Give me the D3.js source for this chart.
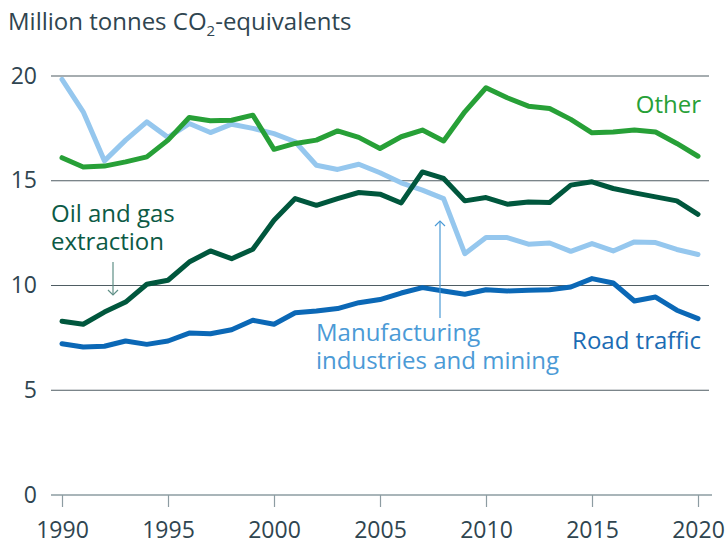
<!DOCTYPE html>
<html>
<head>
<meta charset="utf-8">
<script src="https://cdn.jsdelivr.net/npm/d3@7"></script>
<style>
  html, body { margin: 0; padding: 0; background: #ffffff; }
  svg { display: block; font-family: "Open Sans", "Noto Sans", sans-serif; }
</style>
</head>
<body>
<svg id="chart" width="728" height="541"></svg>
<script>
// Greenhouse gas emissions by source, million tonnes CO2-equivalents
const years = [1990, 1991, 1992, 1993, 1994, 1995, 1996, 1997, 1998, 1999,
               2000, 2001, 2002, 2003, 2004, 2005, 2006, 2007, 2008, 2009,
               2010, 2011, 2012, 2013, 2014, 2015, 2016, 2017, 2018, 2019, 2020];

const other = [16.10, 15.66, 15.70, 15.90, 16.14, 16.94, 18.02, 17.86, 17.89, 18.13,
               16.50, 16.78, 16.94, 17.38, 17.07, 16.54, 17.10, 17.42, 16.90, 18.29,
               19.44, 18.96, 18.56, 18.45, 17.93, 17.29, 17.33, 17.42, 17.33, 16.78, 16.17];

const manufacturing = [19.84, 18.29, 15.95, 16.94, 17.81, 17.07, 17.73, 17.30, 17.70, 17.50,
                       17.25, 16.86, 15.74, 15.54, 15.79, 15.38, 14.90, 14.55, 14.15, 11.52,
                       12.29, 12.29, 11.97, 12.03, 11.63, 12.00, 11.65, 12.08, 12.05, 11.72, 11.48];

const oilGas = [8.29, 8.15, 8.73, 9.21, 10.06, 10.25, 11.12, 11.65, 11.28, 11.73,
                13.11, 14.15, 13.83, 14.15, 14.44, 14.36, 13.94, 15.42, 15.11, 14.04,
                14.20, 13.88, 13.99, 13.96, 14.79, 14.95, 14.63, 14.42, 14.23, 14.04, 13.40];

const roadTraffic = [7.22, 7.06, 7.10, 7.35, 7.19, 7.35, 7.73, 7.70, 7.89, 8.34,
                     8.15, 8.70, 8.78, 8.90, 9.18, 9.33, 9.64, 9.90, 9.74, 9.58,
                     9.80, 9.74, 9.77, 9.80, 9.93, 10.33, 10.12, 9.26, 9.45, 8.82, 8.42];

const yTicks = [0, 5, 10, 15, 20];
const xTicks = [1990, 1995, 2000, 2005, 2010, 2015, 2020];

const svg = d3.select("#chart");

const x = d3.scaleLinear().domain([1990, 2020]).range([62, 698]);
const y = d3.scaleLinear().domain([0, 20]).range([495, 76]);

const textColor = "#2f4550";

// Title with subscript
const title = svg.append("text")
  .attr("x", 8).attr("y", 30)
  .attr("font-size", 24).attr("fill", textColor);
title.append("tspan").text("Million tonnes CO");
title.append("tspan").attr("font-size", 15).attr("dy", 6).text("2");
title.append("tspan").attr("dy", -6).text("-equivalents");

// Horizontal gridlines
svg.append("g")
  .selectAll("line")
  .data(yTicks.filter(d => d > 0))
  .join("line")
  .attr("x1", 51).attr("x2", 709)
  .attr("y1", d => y(d)).attr("y2", d => y(d))
  .attr("stroke", "#4f5d63").attr("stroke-width", 1.2);

// Y tick labels
svg.append("g")
  .selectAll("text")
  .data(yTicks)
  .join("text")
  .attr("x", 37).attr("y", d => y(d) + 7.5)
  .attr("text-anchor", "end")
  .attr("font-size", 23).attr("fill", textColor)
  .text(d => d);

// X axis
const xAxis = d3.axisBottom(x)
  .tickValues(xTicks)
  .tickFormat(d3.format("d"))
  .tickSize(12)
  .tickSizeOuter(0);

const gx = svg.append("g")
  .attr("transform", `translate(0,${y(0)})`)
  .call(xAxis);
gx.select(".domain").remove();
gx.append("line")
  .attr("x1", 51).attr("x2", 712)
  .attr("stroke", "#8d9ca2").attr("stroke-width", 1.5);
gx.selectAll(".tick line").attr("stroke", "#8d9ca2").attr("stroke-width", 1.2);
gx.selectAll(".tick text")
  .attr("font-family", "'Open Sans', sans-serif")
  .attr("font-size", 23)
  .attr("fill", textColor)
  .attr("y", 15)
  .attr("dy", 28);

// Series lines
const series = [
  { name: "manufacturing", values: manufacturing, color: "#95c7ee" },
  { name: "road", values: roadTraffic, color: "#0b68b6" },
  { name: "oilgas", values: oilGas, color: "#00573d" },
  { name: "other", values: other, color: "#27a037" }
];

const line = d3.line()
  .x((d, i) => x(years[i]))
  .y(d => y(d));

svg.append("g")
  .selectAll("path")
  .data(series)
  .join("path")
  .attr("d", d => line(d.values))
  .attr("fill", "none")
  .attr("stroke", d => d.color)
  .attr("stroke-width", 5)
  .attr("stroke-linejoin", "round")
  .attr("stroke-linecap", "round");

// Series labels, one text element per line
function label(lines, lx, ly, color, anchor) {
  lines.forEach((s, i) => {
    svg.append("text")
      .attr("x", lx).attr("y", ly + i * 28)
      .attr("font-size", 24).attr("fill", color)
      .attr("text-anchor", anchor || "start")
      .text(s);
  });
}

label(["Other"], 701, 113, "#27a037", "end");
label(["Oil and gas", "extraction"], 51, 222, "#0c5a45");
label(["Manufacturing", "industries and mining"], 316, 341, "#4b9ad6");
label(["Road traffic"], 701, 349, "#1b6cb4", "end");

// Pointer arrows
function arrow(ax, y1, y2, color) {
  const dir = y2 > y1 ? -1 : 1;
  svg.append("line")
    .attr("x1", ax).attr("x2", ax).attr("y1", y1).attr("y2", y2)
    .attr("stroke", color).attr("stroke-width", 1.2);
  svg.append("path")
    .attr("d", `M${ax - 5},${y2 + dir * 5}L${ax},${y2}L${ax + 5},${y2 + dir * 5}`)
    .attr("fill", "none").attr("stroke", color).attr("stroke-width", 1.2);
}

arrow(113, 262, 295, "#5f8f86");
arrow(440, 318, 221, "#4b9ad6");
</script>
</body>
</html>
